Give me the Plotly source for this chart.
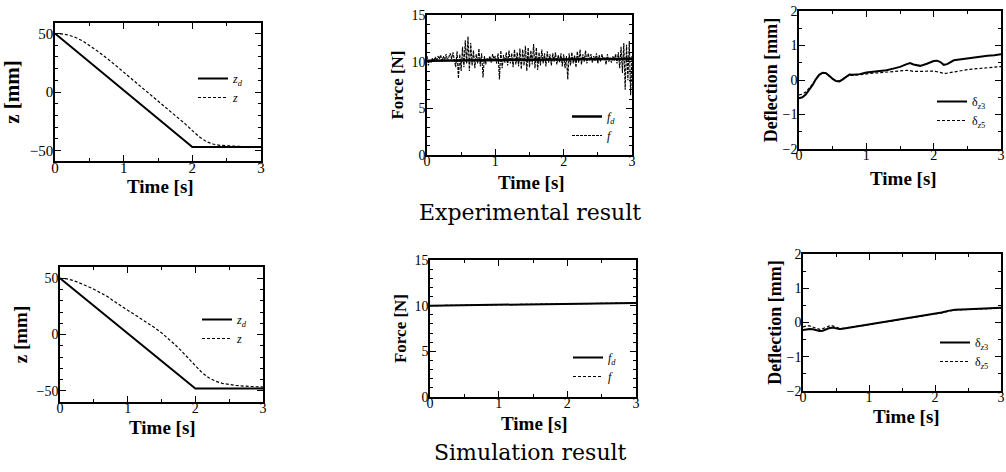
import numpy as np
import plotly.graph_objects as go

# ---------------- data ----------------
# Experimental: position
t_zd_exp = [0, 2, 3]
zd_exp = [50, -47, -47]
t_z_exp = [0, 0.1, 0.2, 0.3, 0.4, 0.5, 0.6, 0.8, 1.0, 1.2, 1.4, 1.6, 1.8, 1.9, 2.0, 2.1, 2.2, 2.3, 2.4, 2.6, 2.8, 3.0]
z_exp = [50, 49.7, 48.6, 46.6, 43.7, 40, 35.8, 26.8, 17, 7.2, -2.5, -12, -22, -27.5, -33, -38.3, -42.3, -44.5, -45.6, -46.5, -46.9, -47]

# Experimental: force (sampled every 0.02 s)
t_f_exp = list(np.round(np.arange(151) * 0.02, 2))
f_exp = [10.6, 9.6, 10.2, 9.9, 10.4, 10.0, 10.5, 10.1, 10.6, 10.3,
         10.7, 10.0, 10.6, 10.2, 10.8, 10.1, 10.5, 10.9, 10.3, 11.0,
         10.2, 9.4, 11.1, 8.2, 10.8, 9.0, 11.6, 9.4, 12.3, 9.8,
         12.7, 9.0, 12.0, 9.6, 11.2, 9.3, 10.8, 9.8, 11.4, 9.5,
         10.9, 8.3, 10.6, 9.7, 10.4, 10.1, 10.6, 9.9, 10.8, 10.3,
         10.6, 9.8, 10.9, 8.1, 11.2, 9.3, 10.7, 9.9, 11.0, 9.6,
         11.2, 9.8, 10.9, 9.4, 11.3, 9.7, 11.0, 9.5, 11.4, 9.2,
         11.3, 9.6, 11.7, 9.0, 11.5, 9.4, 11.2, 9.7, 11.9, 9.3,
         11.5, 9.1, 11.0, 9.6, 11.3, 9.8, 10.9, 9.5, 11.1, 9.9,
         10.8, 9.6, 10.9, 10.0, 11.0, 9.7, 10.7, 9.9, 10.9, 9.5,
         10.8, 9.3, 10.6, 8.1, 10.9, 9.6, 11.0, 9.8, 10.7, 9.4,
         11.1, 9.9, 11.3, 9.7, 10.8, 10.0, 11.2, 9.8, 10.9, 10.1,
         10.8, 9.9, 10.6, 10.1, 10.9, 9.8, 10.7, 10.0, 10.8, 10.2,
         10.5, 9.7, 10.8, 10.0, 10.4, 9.9, 10.6, 10.1, 10.8, 9.8,
         11.0, 9.3, 11.6, 8.8, 12.0, 7.0, 11.8, 8.0, 12.2, 6.4,
         10.6]
t_fd_exp = [0, 3]
fd_exp = [10.1, 10.3]

# Experimental: deflection
t_d_exp = [0, 0.05, 0.1, 0.15, 0.2, 0.25, 0.3, 0.35, 0.4, 0.45, 0.5, 0.55, 0.6, 0.65, 0.7, 0.75, 0.8, 0.9,
           1.0, 1.1, 1.2, 1.3, 1.4, 1.5, 1.6, 1.65, 1.7, 1.8, 1.9, 2.0, 2.05, 2.1, 2.15, 2.2, 2.3, 2.4,
           2.5, 2.6, 2.7, 2.8, 2.9, 3.0]
d3_exp = [-0.53, -0.5, -0.42, -0.3, -0.15, 0.02, 0.15, 0.21, 0.2, 0.12, 0.03, -0.03, -0.04, 0.02, 0.1, 0.16,
          0.15, 0.17, 0.22, 0.24, 0.25, 0.28, 0.33, 0.38, 0.46, 0.49, 0.45, 0.41, 0.47, 0.55, 0.56, 0.52,
          0.44, 0.46, 0.57, 0.6, 0.63, 0.64, 0.68, 0.7, 0.72, 0.75]
d5_exp = [-0.43, -0.41, -0.35, -0.25, -0.12, 0.03, 0.15, 0.2, 0.19, 0.11, 0.03, -0.02, -0.03, 0.03, 0.1, 0.14,
          0.13, 0.15, 0.18, 0.2, 0.21, 0.23, 0.25, 0.27, 0.28, 0.27, 0.25, 0.25, 0.26, 0.26, 0.24, 0.21,
          0.19, 0.2, 0.24, 0.26, 0.3, 0.32, 0.34, 0.36, 0.38, 0.39]

# Simulation: position
t_zd_sim = [0, 2, 3]
zd_sim = [50, -48, -48]
t_z_sim = [0, 0.1, 0.2, 0.3, 0.4, 0.5, 0.6, 0.7, 0.8, 0.9, 1.0, 1.1, 1.2, 1.3, 1.4, 1.5, 1.6, 1.7, 1.8, 1.9,
           2.0, 2.1, 2.2, 2.3, 2.4, 2.6, 2.8, 3.0]
z_sim = [50, 49.5, 48, 45.8, 43, 40.2, 37.3, 33.8, 29.5, 25.3, 21.5, 17.8, 14, 10, 6, 1.5, -3.5, -9, -15,
         -21.5, -28, -34, -38.5, -41.5, -43.5, -45.3, -46.2, -46.7]

# Simulation: force
t_fd_sim = [0, 3]
fd_sim = [10.0, 10.3]
t_f_sim = [0, 0.5, 1, 1.5, 2, 2.5, 3]
f_sim = [10.0, 10.05, 10.1, 10.2, 10.25, 10.3, 10.3]

# Simulation: deflection
t_d_sim = [0, 0.05, 0.1, 0.15, 0.2, 0.25, 0.3, 0.35, 0.4, 0.45, 0.5, 0.55, 0.6, 0.7, 0.8, 0.9, 1.0, 1.2,
           1.4, 1.6, 1.8, 2.0, 2.1, 2.2, 2.3, 2.5, 2.7, 3.0]
d3_sim = [-0.22, -0.2, -0.19, -0.2, -0.23, -0.25, -0.24, -0.2, -0.16, -0.15, -0.17, -0.19, -0.18, -0.15,
          -0.12, -0.09, -0.06, 0.0, 0.06, 0.12, 0.18, 0.25, 0.29, 0.34, 0.37, 0.39, 0.41, 0.43]
d5_sim = [-0.13, -0.1, -0.1, -0.13, -0.18, -0.2, -0.18, -0.13, -0.1, -0.1, -0.13, -0.17, -0.17, -0.15,
          -0.12, -0.09, -0.06, 0.0, 0.06, 0.12, 0.18, 0.24, 0.28, 0.33, 0.36, 0.38, 0.4, 0.42]

x_ticks = [0, 1, 2, 3]
x_title = "Time [s]"
captions = ["Experimental result", "Simulation result"]

# ---------------- layout helpers ----------------
W, H = 1006, 472
SERIF = "Liberation Serif"


def px_x(p):
    return p / W


def px_y(p):
    return 1 - p / H


SOLID = dict(color="black", width=2)
DASH = dict(color="black", width=1.2, dash="3px,2px")

fig = go.Figure()

panels = [
    dict(xb=(55, 261), yb=(23, 161), yr=[-59, 59], yt="z [mm]", ytv=[-50, 0, 50], ym=10, tf=15, ts=21, so=4,
         s=[(t_zd_exp, zd_exp, "<i>z<sub>d</sub></i>", SOLID), (t_z_exp, z_exp, "<i>z</i>", DASH)],
         lg=(193, 64), xt=(160, 187)),
    dict(xb=(427, 632), yb=(15, 155), yr=[0, 15], yt="Force [N]", ytv=[0, 5, 10, 15], ym=1, tf=14, ts=17, so=4,
         s=[(t_fd_exp, fd_exp, "<i>f<sub>d</sub></i>", dict(color="black", width=2.5)),
            (t_f_exp, f_exp, "<i>f</i>", dict(color="black", width=1.1, dash="3px,1px"))],
         lg=(567, 102), xt=(531, 183)),
    dict(xb=(799, 1001), yb=(11, 149), yr=[-2, 2], yt="Deflection [mm]", ytv=[-2, -1, 0, 1, 2], ym=0.5,
         tf=14, ts=18, so=0,
         s=[(t_d_exp, d3_exp, "δ<sub><i>z</i>3</sub>", SOLID), (t_d_exp, d5_exp, "δ<sub><i>z</i>5</sub>", DASH)],
         lg=(932, 87), xt=(903, 178)),
    dict(xb=(60, 263), yb=(267, 402), yr=[-60, 60], yt="z [mm]", ytv=[-50, 0, 50], ym=10, tf=14, ts=19, so=4,
         s=[(t_zd_sim, zd_sim, "<i>z<sub>d</sub></i>", SOLID), (t_z_sim, z_sim, "<i>z</i>", DASH)],
         lg=(197, 305), xt=(162, 427)),
    dict(xb=(430, 636), yb=(260, 397), yr=[0, 15], yt="Force [N]", ytv=[0, 5, 10, 15], ym=1, tf=14, ts=17, so=4,
         s=[(t_fd_sim, fd_sim, "<i>f<sub>d</sub></i>", SOLID), (t_f_sim, f_sim, "<i>f</i>", DASH)],
         lg=(568, 343), xt=(534, 423)),
    dict(xb=(803, 1001), yb=(254, 391), yr=[-2, 2], yt="Deflection [mm]", ytv=[-2, -1, 0, 1, 2], ym=0.5,
         tf=14, ts=18, so=0,
         s=[(t_d_sim, d3_sim, "δ<sub><i>z</i>3</sub>", SOLID), (t_d_sim, d5_sim, "δ<sub><i>z</i>5</sub>", DASH)],
         lg=(935, 328), xt=(906, 416)),
]

layout = dict(
    width=W, height=H, margin=dict(l=0, r=0, t=0, b=0, autoexpand=False),
    paper_bgcolor="white", plot_bgcolor="white",
    font=dict(family=SERIF, color="black"),
    showlegend=True,
)
annotations = []

for i, p in enumerate(panels):
    n = i + 1
    sfx = "" if n == 1 else str(n)
    lgname = "legend" + sfx
    for (tx, ty, name, line) in p["s"]:
        fig.add_trace(go.Scatter(x=tx, y=ty, mode="lines", name=name, line=line,
                                 xaxis="x" + sfx, yaxis="y" + sfx, legend=lgname))
    common = dict(showline=True, linecolor="black", linewidth=1.5, mirror="ticks",
                  ticks="inside", ticklen=6, tickwidth=1.3, tickcolor="black",
                  showgrid=False, zeroline=False, automargin=False,
                  tickfont=dict(family=SERIF, size=p["tf"], color="black"))
    layout["xaxis" + sfx] = dict(
        common, domain=[px_x(p["xb"][0]), px_x(p["xb"][1])], range=[0, 3],
        tickvals=x_ticks, anchor="y" + sfx, ticklabelstandoff=-8,
        minor=dict(ticks="inside", ticklen=3, dtick=0.5, tickcolor="black", tickwidth=1))
    layout["yaxis" + sfx] = dict(
        common, domain=[px_y(p["yb"][1]), px_y(p["yb"][0])], range=p["yr"],
        tickvals=p["ytv"], anchor="x" + sfx, ticklabelstandoff=-3,
        minor=dict(ticks="inside", ticklen=3, dtick=p["ym"], tickcolor="black", tickwidth=1),
        title=dict(text=p["yt"], standoff=p["so"],
                   font=dict(family=SERIF, size=p["ts"], weight="bold", color="black")))
    layout[lgname] = dict(x=px_x(p["lg"][0]), y=px_y(p["lg"][1]), xanchor="left", yanchor="top",
                          bgcolor="rgba(0,0,0,0)", borderwidth=0,
                          font=dict(family=SERIF, size=12, color="black"),
                          tracegroupgap=0, itemwidth=30)
    annotations.append(dict(text=x_title, x=px_x(p["xt"][0]), y=px_y(p["xt"][1]), xref="paper", yref="paper",
                            showarrow=False, xanchor="center", yanchor="middle",
                            font=dict(family=SERIF, size=19, weight="bold", color="black")))

annotations += [
    dict(text=captions[0], x=px_x(530), y=px_y(212), xref="paper", yref="paper",
         showarrow=False, xanchor="center", yanchor="middle",
         font=dict(family="DejaVu Serif", size=22, color="black")),
    dict(text=captions[1], x=px_x(530), y=px_y(452), xref="paper", yref="paper",
         showarrow=False, xanchor="center", yanchor="middle",
         font=dict(family="DejaVu Serif", size=22, color="black")),
]
layout["annotations"] = annotations

fig.update_layout(**layout)
fig.write_html("out.html", config={"displayModeBar": False},
               post_script="document.body.style.margin='0px';")
